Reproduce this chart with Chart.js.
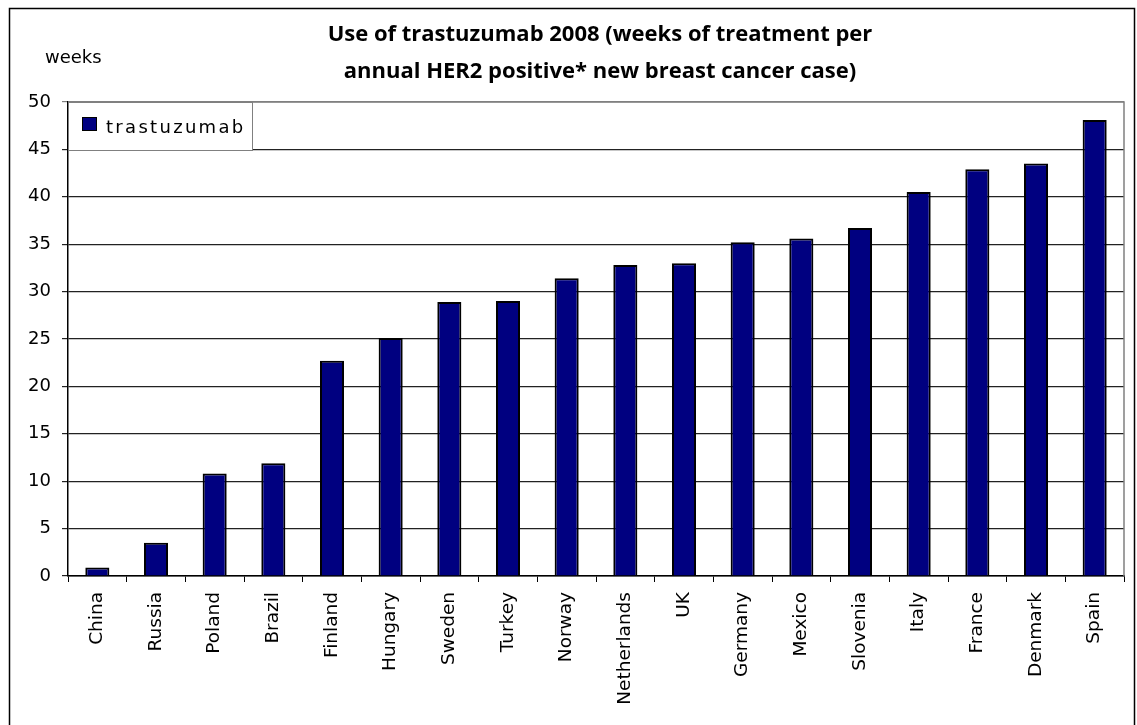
<!DOCTYPE html>
<html>
<head>
<meta charset="utf-8">
<script src="https://cdn.jsdelivr.net/npm/chart.js@4/dist/chart.umd.min.js"></script>
<style>
  html, body { margin: 0; padding: 0; background: #fff; }
  #wrap { width: 1137px; height: 725px; }
</style>
</head>
<body>
<div id="wrap"><canvas id="her2Chart" width="1137" height="725"></canvas></div>
<script>
// values
const countries = ['China', 'Russia', 'Poland', 'Brazil', 'Finland', 'Hungary', 'Sweden', 'Turkey', 'Norway',
    'Netherlands', 'UK', 'Germany', 'Mexico', 'Slovenia', 'Italy', 'France', 'Denmark', 'Spain'];
const weeks = [0.9, 3.5, 10.8, 11.9, 22.7, 25.1, 28.9, 29.0, 31.4, 32.8, 33.0, 35.2, 35.6, 36.7, 40.5, 42.9, 43.5, 48.1];
const seriesName = 'trastuzumab';
const titleLines = ['Use of trastuzumab 2008 (weeks of treatment per', 'annual HER2 positive* new breast cancer case)'];
const yUnit = 'weeks';

const labelFont = '"DejaVu Sans", Verdana, sans-serif';

// frame, title, unit label and the little legend box
const decorations = {
    id: 'decorations',
    afterDraw(chart) {
        const { ctx, chartArea } = chart;
        ctx.save();

        ctx.strokeStyle = '#000';
        ctx.lineWidth = 1.5;
        ctx.strokeRect(9.5, 8.5, 1125, 800);

        const cx = (chartArea.left + chartArea.right) / 2 + 4;
        ctx.fillStyle = '#000';
        ctx.font = 'bold 22px "Open Sans", Lato, sans-serif';
        ctx.textAlign = 'center';
        ctx.textBaseline = 'middle';
        ctx.fillText(titleLines[0], cx, 35);
        ctx.fillText(titleLines[1], cx, 72);

        ctx.font = '18px ' + labelFont;
        ctx.textAlign = 'left';
        ctx.fillText(yUnit, 45, 58);

        // legend
        const ds = chart.data.datasets[0];
        ctx.fillStyle = '#fff';
        ctx.fillRect(chartArea.left, chartArea.top, 184, 48);
        ctx.strokeStyle = '#808080';
        ctx.lineWidth = 1;
        ctx.strokeRect(chartArea.left + 0.5, chartArea.top + 0.5, 184, 48);
        ctx.fillStyle = ds.backgroundColor;
        ctx.fillRect(chartArea.left + 14, chartArea.top + 15, 15, 14);
        ctx.strokeStyle = '#000';
        ctx.strokeRect(chartArea.left + 14.5, chartArea.top + 15.5, 14, 13);
        ctx.fillStyle = '#000';
        ctx.font = '18px ' + labelFont;
        ctx.letterSpacing = '2.3px';
        ctx.textBaseline = 'middle';
        ctx.fillText(ds.label, chartArea.left + 38, chartArea.top + 26);

        ctx.restore();
    }
};

const plotBorder = {
    id: 'plotBorder',
    beforeDatasetsDraw(chart) {
        const { ctx, chartArea } = chart;
        ctx.save();
        ctx.strokeStyle = '#808080';
        ctx.lineWidth = 1.5;
        ctx.beginPath();
        ctx.moveTo(chartArea.left, chartArea.top);
        ctx.lineTo(chartArea.right, chartArea.top);
        ctx.lineTo(chartArea.right, chartArea.bottom);
        ctx.stroke();
        ctx.restore();
    }
};

const ctx = document.getElementById('her2Chart').getContext('2d');

new Chart(ctx, {
    type: 'bar',
    data: {
        labels: countries,
        datasets: [{
            label: seriesName,
            data: weeks,
            backgroundColor: '#000080',
            borderColor: '#000',
            borderWidth: 2,
            barPercentage: 0.41,
            categoryPercentage: 1.0
        }]
    },
    options: {
        responsive: false,
        animation: false,
        layout: { padding: { top: 102, right: 13, left: 0, bottom: 0 } },
        plugins: {
            legend: { display: false },
            title: { display: false },
            tooltip: { enabled: false }
        },
        scales: {
            x: {
                grid: {
                    offset: true,
                    drawOnChartArea: false,
                    drawTicks: true,
                    tickLength: 6,
                    color: '#000'
                },
                border: { color: '#000', width: 1.5 },
                ticks: {
                    color: '#000',
                    font: { family: labelFont, size: 18.5 },
                    minRotation: 90,
                    maxRotation: 90,
                    autoSkip: false,
                    padding: 10
                },
                afterFit(scale) { scale.height = 149; }
            },
            y: {
                min: 0,
                max: 50,
                grid: {
                    color: (c) => c.tick && c.tick.value === 50 ? '#808080' : '#222',
                    lineWidth: 1.2,
                    tickLength: 6
                },
                border: { color: '#000', width: 1.5 },
                ticks: {
                    stepSize: 5,
                    color: '#000',
                    font: { family: labelFont, size: 18 },
                    padding: 11
                },
                afterFit(scale) { scale.width = 68; }
            }
        }
    },
    plugins: [plotBorder, decorations]
});
</script>
</body>
</html>
